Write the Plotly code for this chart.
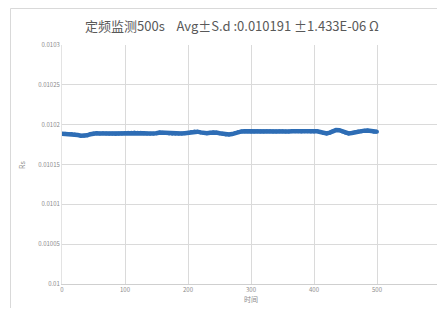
import plotly.graph_objects as go

# time (s), step 5
time_s = list(range(0, 505, 5))
rs_values = [
    0.0101886, 0.0101885, 0.0101884, 0.0101882, 0.0101878, 0.0101870, 0.0101862, 0.0101860,
    0.0101866, 0.0101880, 0.0101890, 0.0101892, 0.0101890, 0.0101891, 0.0101889, 0.0101887,
    0.0101886, 0.0101884, 0.0101886, 0.0101890, 0.0101894, 0.0101898, 0.0101900, 0.0101901,
    0.0101899, 0.0101897, 0.0101893, 0.0101889, 0.0101886, 0.0101887, 0.0101893, 0.0101902,
    0.0101900, 0.0101895, 0.0101889, 0.0101886, 0.0101885, 0.0101887, 0.0101889, 0.0101893,
    0.0101900, 0.0101908, 0.0101913, 0.0101912, 0.0101903, 0.0101895, 0.0101892, 0.0101898,
    0.0101905, 0.0101900, 0.0101893, 0.0101885, 0.0101878, 0.0101876, 0.0101882, 0.0101895,
    0.0101908, 0.0101915, 0.0101917, 0.0101916, 0.0101914, 0.0101915, 0.0101916, 0.0101914,
    0.0101915, 0.0101917, 0.0101916, 0.0101914, 0.0101915, 0.0101916, 0.0101917, 0.0101915,
    0.0101914, 0.0101916, 0.0101917, 0.0101916, 0.0101915, 0.0101916, 0.0101917, 0.0101915,
    0.0101914, 0.0101916, 0.0101908, 0.0101896, 0.0101890, 0.0101900, 0.0101918, 0.0101932,
    0.0101930, 0.0101915, 0.0101898, 0.0101890, 0.0101895, 0.0101905, 0.0101913, 0.0101918,
    0.0101925, 0.0101926, 0.0101920, 0.0101912, 0.0101910,
]
rs_values = rs_values[:len(time_s)]

x_ticks = [0, 100, 200, 300, 400, 500, 600]
y_ticks = [0.01, 0.01005, 0.0101, 0.01015, 0.0102, 0.01025, 0.0103]
y_tick_labels = ["0.01", "0.01005", "0.0101", "0.01015", "0.0102", "0.01025", "0.0103"]

title_text = "定频监测500s    Avg±S.d :0.010191 ±1.433E-06 Ω"
x_title = "时间"
y_title = "Rs"

FONT = "Noto Sans CJK SC, Liberation Sans, sans-serif"
BLUE = "#2E6DB5"
GRID = "#DADADA"
TICK = "#8C8C8C"

fig = go.Figure()
fig.add_trace(go.Scatter(
    x=time_s, y=rs_values, mode="lines+markers",
    line=dict(color=BLUE, width=4.5),
    marker=dict(color=BLUE, size=4),
    showlegend=False,
))

OFF = 8  # page body margin
W, H = 437, 300
L, T = 54, 37
pw, ph = 378, 239
R = W - L - pw
B = H - T - ph

def px_to_paper_x(px):
    return (px - OFF - L) / pw

def py_to_paper_y(py):
    return (T + ph - (py - OFF)) / ph

fig.update_layout(
    width=W, height=H,
    margin=dict(l=L, r=R, t=T, b=B),
    paper_bgcolor="white", plot_bgcolor="white",
    font=dict(family=FONT, color=TICK, size=6),
    xaxis=dict(
        range=[0, 600], tickvals=x_ticks, ticktext=[str(v) for v in x_ticks],
        showgrid=True, gridcolor=GRID, gridwidth=1,
        showline=True, linecolor="#CFCFCF", linewidth=1,
        zeroline=False, ticks="", tickfont=dict(size=6, color=TICK),
        title=dict(text=x_title, font=dict(size=7, color=TICK), standoff=2),
    ),
    yaxis=dict(
        range=[0.01, 0.0103], tickvals=y_ticks, ticktext=y_tick_labels,
        showgrid=True, gridcolor=GRID, gridwidth=1,
        showline=True, linecolor="#E3E3E3", linewidth=1,
        zeroline=False, ticks="", tickfont=dict(size=6, color=TICK),
    ),
    annotations=[
        dict(text=title_text, xref="paper", yref="paper",
             x=px_to_paper_x(232), y=py_to_paper_y(25),
             xanchor="center", yanchor="middle", showarrow=False,
             font=dict(family=FONT, size=13, color="#595959")),
        dict(text=y_title, xref="paper", yref="paper",
             x=px_to_paper_x(22), y=py_to_paper_y(165),
             xanchor="center", yanchor="middle", showarrow=False, textangle=-90,
             font=dict(family=FONT, size=7, color=TICK)),
    ],
    shapes=[
        dict(type="rect", xref="paper", yref="paper",
             x0=px_to_paper_x(10.5), x1=px_to_paper_x(470),
             y0=py_to_paper_y(340), y1=py_to_paper_y(8.5),
             line=dict(color="#D9D9D9", width=1), fillcolor="rgba(0,0,0,0)", layer="below"),
    ],
)

fig.write_html("out.html")
